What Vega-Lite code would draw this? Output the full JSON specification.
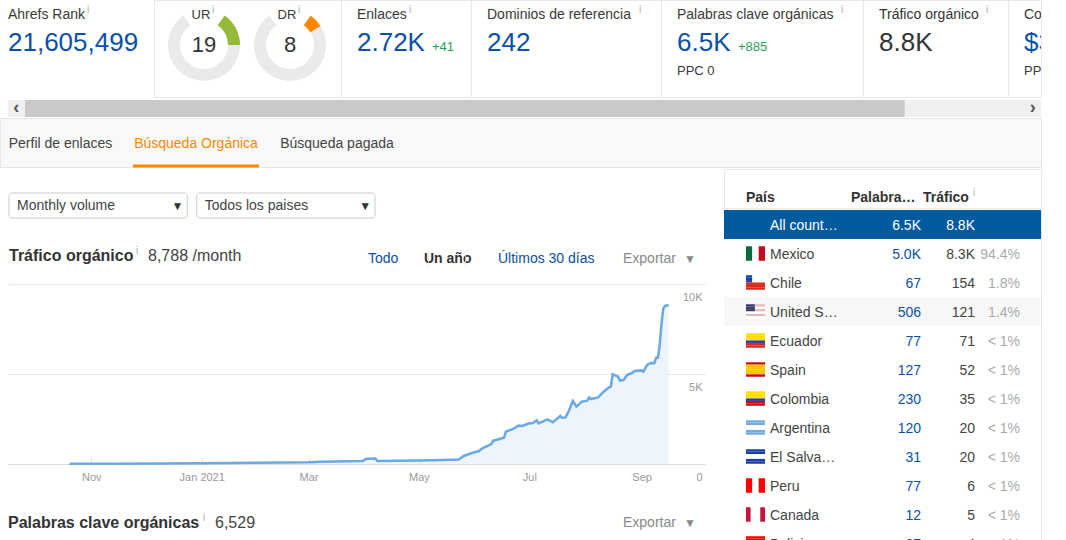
{
  "$schema": "https://vega.github.io/schema/vega-lite/v6.json",
  "description": "Ahrefs site overview: metric strip, organic traffic chart and country table.",
  "padding": {"left": -1, "top": -1, "right": 0, "bottom": 0},
  "background": "white",
  "spacing": 0,
  "resolve": {"scale": {"color": "independent", "size": "independent"}},
  "config": {"font": "Liberation Sans", "view": {"stroke": null}, "concat": {"spacing": 0}, "scale": {"pointPadding": 0}},
  "datasets": {
    "kpi": [
      {"panel": "rank", "line": "title", "role": "title", "text": "Ahrefs Rank", "tone": "plain"},
      {"panel": "rank", "line": "title", "role": "info", "text": "i", "tone": "muted"},
      {"panel": "rank", "line": "value", "role": "value", "text": "21,605,499", "tone": "link"},
      {"panel": "links", "line": "title", "role": "title", "text": "Enlaces", "tone": "plain"},
      {"panel": "links", "line": "title", "role": "info", "text": "i", "tone": "muted"},
      {"panel": "links", "line": "value", "role": "value", "text": "2.72K", "tone": "link"},
      {"panel": "links", "line": "value", "role": "delta", "text": "+41", "tone": "up"},
      {"panel": "domains", "line": "title", "role": "title", "text": "Dominios de referencia", "tone": "plain"},
      {"panel": "domains", "line": "title", "role": "info", "text": "i", "tone": "muted"},
      {"panel": "domains", "line": "value", "role": "value", "text": "242", "tone": "link"},
      {"panel": "keywords", "line": "title", "role": "title", "text": "Palabras clave orgánicas", "tone": "plain"},
      {"panel": "keywords", "line": "title", "role": "info", "text": "i", "tone": "muted"},
      {"panel": "keywords", "line": "value", "role": "value", "text": "6.5K", "tone": "link"},
      {"panel": "keywords", "line": "value", "role": "delta", "text": "+885", "tone": "up"},
      {"panel": "keywords", "line": "sub", "role": "sub", "text": "PPC 0", "tone": "plain"},
      {"panel": "traffic", "line": "title", "role": "title", "text": "Tráfico orgánico", "tone": "plain"},
      {"panel": "traffic", "line": "title", "role": "info", "text": "i", "tone": "muted"},
      {"panel": "traffic", "line": "value", "role": "value", "text": "8.8K", "tone": "plain"},
      {"panel": "cost", "line": "title", "role": "title", "text": "Coste", "tone": "plain"},
      {"panel": "cost", "line": "value", "role": "value", "text": "$3", "tone": "link"},
      {"panel": "cost", "line": "sub", "role": "sub", "text": "PPC", "tone": "plain"}
    ],
    "gauge": [
      {"gauge": "UR", "line": "value", "part": "track", "from": 0, "to": 100},
      {"gauge": "DR", "line": "value", "part": "track", "from": 0, "to": 100},
      {"gauge": "UR", "line": "value", "part": "UR", "from": 0, "to": 19},
      {"gauge": "DR", "line": "value", "part": "DR", "from": 0, "to": 8}
    ],
    "traffic": [
      {"date": "2020-10-20", "traffic": 15},
      {"date": "2020-11-15", "traffic": 20},
      {"date": "2021-01-01", "traffic": 40},
      {"date": "2021-02-01", "traffic": 65},
      {"date": "2021-03-01", "traffic": 100},
      {"date": "2021-03-08", "traffic": 130},
      {"date": "2021-03-31", "traffic": 170},
      {"date": "2021-04-02", "traffic": 290},
      {"date": "2021-04-07", "traffic": 300},
      {"date": "2021-04-08", "traffic": 170},
      {"date": "2021-05-01", "traffic": 200},
      {"date": "2021-05-14", "traffic": 222},
      {"date": "2021-05-23", "traffic": 250},
      {"date": "2021-05-26", "traffic": 460},
      {"date": "2021-06-01", "traffic": 667},
      {"date": "2021-06-03", "traffic": 705},
      {"date": "2021-06-05", "traffic": 870},
      {"date": "2021-06-10", "traffic": 1110},
      {"date": "2021-06-11", "traffic": 1295},
      {"date": "2021-06-17", "traffic": 1460},
      {"date": "2021-06-18", "traffic": 1800},
      {"date": "2021-06-22", "traffic": 1945},
      {"date": "2021-06-25", "traffic": 2130},
      {"date": "2021-06-27", "traffic": 2110},
      {"date": "2021-07-01", "traffic": 2260},
      {"date": "2021-07-03", "traffic": 2280},
      {"date": "2021-07-05", "traffic": 2425},
      {"date": "2021-07-06", "traffic": 2260},
      {"date": "2021-07-11", "traffic": 2480},
      {"date": "2021-07-14", "traffic": 2315},
      {"date": "2021-07-18", "traffic": 2665},
      {"date": "2021-07-19", "traffic": 2570},
      {"date": "2021-07-21", "traffic": 2590},
      {"date": "2021-07-23", "traffic": 3000},
      {"date": "2021-07-25", "traffic": 3500},
      {"date": "2021-07-27", "traffic": 3185},
      {"date": "2021-07-30", "traffic": 3465},
      {"date": "2021-08-02", "traffic": 3520},
      {"date": "2021-08-03", "traffic": 3700},
      {"date": "2021-08-04", "traffic": 3610},
      {"date": "2021-08-08", "traffic": 3700},
      {"date": "2021-08-11", "traffic": 4015},
      {"date": "2021-08-14", "traffic": 4260},
      {"date": "2021-08-15", "traffic": 4300},
      {"date": "2021-08-16", "traffic": 4985},
      {"date": "2021-08-19", "traffic": 4850},
      {"date": "2021-08-20", "traffic": 4630},
      {"date": "2021-08-22", "traffic": 4665},
      {"date": "2021-08-24", "traffic": 4945},
      {"date": "2021-08-27", "traffic": 5070},
      {"date": "2021-08-28", "traffic": 5165},
      {"date": "2021-09-01", "traffic": 5200},
      {"date": "2021-09-02", "traffic": 5130},
      {"date": "2021-09-04", "traffic": 5500},
      {"date": "2021-09-06", "traffic": 5610},
      {"date": "2021-09-08", "traffic": 5595},
      {"date": "2021-09-09", "traffic": 5905},
      {"date": "2021-09-10", "traffic": 5905},
      {"date": "2021-09-11", "traffic": 6610},
      {"date": "2021-09-12", "traffic": 7830},
      {"date": "2021-09-13", "traffic": 8650},
      {"date": "2021-09-14", "traffic": 8795},
      {"date": "2021-09-16", "traffic": 8820}
    ],
    "countries": [
      {"key": "All countries", "name": "All count…", "words": "6.5K", "traffic": "8.8K", "share": ""},
      {"key": "Mexico", "name": "Mexico", "words": "5.0K", "traffic": "8.3K", "share": "94.4%"},
      {"key": "Chile", "name": "Chile", "words": "67", "traffic": "154", "share": "1.8%"},
      {"key": "United States", "name": "United S…", "words": "506", "traffic": "121", "share": "1.4%"},
      {"key": "Ecuador", "name": "Ecuador", "words": "77", "traffic": "71", "share": "< 1%"},
      {"key": "Spain", "name": "Spain", "words": "127", "traffic": "52", "share": "< 1%"},
      {"key": "Colombia", "name": "Colombia", "words": "230", "traffic": "35", "share": "< 1%"},
      {"key": "Argentina", "name": "Argentina", "words": "120", "traffic": "20", "share": "< 1%"},
      {"key": "El Salvador", "name": "El Salva…", "words": "31", "traffic": "20", "share": "< 1%"},
      {"key": "Peru", "name": "Peru", "words": "77", "traffic": "6", "share": "< 1%"},
      {"key": "Canada", "name": "Canada", "words": "12", "traffic": "5", "share": "< 1%"},
      {"key": "Bolivia", "name": "Bolivia", "words": "87", "traffic": "4", "share": "< 1%"}
    ],
    "flagColumns": [
      {"key": "Mexico", "from": 0, "to": 1, "tint": "green"},
      {"key": "Mexico", "from": 1, "to": 2, "tint": "white"},
      {"key": "Mexico", "from": 2, "to": 3, "tint": "darkred"},
      {"key": "Peru", "from": 0, "to": 1, "tint": "red"},
      {"key": "Peru", "from": 1, "to": 2, "tint": "white"},
      {"key": "Peru", "from": 2, "to": 3, "tint": "red"},
      {"key": "Canada", "from": 0, "to": 0.75, "tint": "crimson"},
      {"key": "Canada", "from": 0.75, "to": 2.25, "tint": "white"},
      {"key": "Canada", "from": 2.25, "to": 3, "tint": "crimson"}
    ],
    "flagStripes": [
      {"key": "Chile", "stripe": "s1", "from": 0, "to": 1, "tint": "blue"},
      {"key": "Chile", "stripe": "s2", "from": 0, "to": 1, "tint": "blue"},
      {"key": "Chile", "stripe": "s3", "from": 0, "to": 1, "tint": "blue"},
      {"key": "Chile", "stripe": "s1", "from": 1, "to": 3, "tint": "white"},
      {"key": "Chile", "stripe": "s2", "from": 1, "to": 3, "tint": "white"},
      {"key": "Chile", "stripe": "s3", "from": 1, "to": 3, "tint": "white"},
      {"key": "Chile", "stripe": "s4", "from": 0, "to": 3, "tint": "red2"},
      {"key": "Chile", "stripe": "s5", "from": 0, "to": 3, "tint": "red2"},
      {"key": "Chile", "stripe": "s6", "from": 0, "to": 3, "tint": "red2"},
      {"key": "United States", "stripe": "s1", "from": 1.4, "to": 3, "tint": "pink"},
      {"key": "United States", "stripe": "s2", "from": 1.4, "to": 3, "tint": "white"},
      {"key": "United States", "stripe": "s3", "from": 1.4, "to": 3, "tint": "pink"},
      {"key": "United States", "stripe": "s1", "from": 0, "to": 1.4, "tint": "navy"},
      {"key": "United States", "stripe": "s2", "from": 0, "to": 1.4, "tint": "navy"},
      {"key": "United States", "stripe": "s3", "from": 0, "to": 1.4, "tint": "navy"},
      {"key": "United States", "stripe": "s4", "from": 0, "to": 3, "tint": "white"},
      {"key": "United States", "stripe": "s5", "from": 0, "to": 3, "tint": "pink"},
      {"key": "United States", "stripe": "s6", "from": 0, "to": 3, "tint": "white"},
      {"key": "Ecuador", "stripe": "s1", "from": 0, "to": 3, "tint": "yellow"},
      {"key": "Ecuador", "stripe": "s2", "from": 0, "to": 3, "tint": "yellow"},
      {"key": "Ecuador", "stripe": "s3", "from": 0, "to": 3, "tint": "yellow"},
      {"key": "Ecuador", "stripe": "s4", "from": 0, "to": 3, "tint": "blue"},
      {"key": "Ecuador", "stripe": "s5", "from": 0, "to": 3, "tint": "red2"},
      {"key": "Ecuador", "stripe": "s6", "from": 0, "to": 3, "tint": "red2"},
      {"key": "Spain", "stripe": "s1", "from": 0, "to": 3, "tint": "darkred"},
      {"key": "Spain", "stripe": "s2", "from": 0, "to": 3, "tint": "amber"},
      {"key": "Spain", "stripe": "s3", "from": 0, "to": 3, "tint": "amber"},
      {"key": "Spain", "stripe": "s4", "from": 0, "to": 3, "tint": "amber"},
      {"key": "Spain", "stripe": "s5", "from": 0, "to": 3, "tint": "amber"},
      {"key": "Spain", "stripe": "s6", "from": 0, "to": 3, "tint": "darkred"},
      {"key": "Colombia", "stripe": "s1", "from": 0, "to": 3, "tint": "yellow"},
      {"key": "Colombia", "stripe": "s2", "from": 0, "to": 3, "tint": "yellow"},
      {"key": "Colombia", "stripe": "s3", "from": 0, "to": 3, "tint": "yellow"},
      {"key": "Colombia", "stripe": "s4", "from": 0, "to": 3, "tint": "blue"},
      {"key": "Colombia", "stripe": "s5", "from": 0, "to": 3, "tint": "darkred"},
      {"key": "Colombia", "stripe": "s6", "from": 0, "to": 3, "tint": "darkred"},
      {"key": "Argentina", "stripe": "s1", "from": 0, "to": 3, "tint": "sky"},
      {"key": "Argentina", "stripe": "s2", "from": 0, "to": 3, "tint": "sky"},
      {"key": "Argentina", "stripe": "s3", "from": 0, "to": 3, "tint": "white"},
      {"key": "Argentina", "stripe": "s4", "from": 0, "to": 3, "tint": "white"},
      {"key": "Argentina", "stripe": "s5", "from": 0, "to": 3, "tint": "sky"},
      {"key": "Argentina", "stripe": "s6", "from": 0, "to": 3, "tint": "sky"},
      {"key": "El Salvador", "stripe": "s1", "from": 0, "to": 3, "tint": "blue"},
      {"key": "El Salvador", "stripe": "s2", "from": 0, "to": 3, "tint": "blue"},
      {"key": "El Salvador", "stripe": "s3", "from": 0, "to": 3, "tint": "white"},
      {"key": "El Salvador", "stripe": "s4", "from": 0, "to": 3, "tint": "white"},
      {"key": "El Salvador", "stripe": "s5", "from": 0, "to": 3, "tint": "blue"},
      {"key": "El Salvador", "stripe": "s6", "from": 0, "to": 3, "tint": "blue"},
      {"key": "Bolivia", "stripe": "s1", "from": 0, "to": 3, "tint": "red"},
      {"key": "Bolivia", "stripe": "s2", "from": 0, "to": 3, "tint": "red"}
    ]
  },
  "vconcat": [
    {
      "bounds": "flush",
      "spacing": 0,
      "resolve": {"scale": {"color": "independent", "size": "independent"}},
      "hconcat": [
        {
          "width": 154, "height": 97,
          "data": {"name": "kpi"},
          "transform": [{"filter": "datum.panel == 'rank'"}],
          "resolve": {"scale": {"x": "independent"}},
          "encoding": {"y": {"field": "line", "type": "nominal", "axis": null, "scale": {"domain": ["title", "value", "sub"], "range": [15, 71]}}},
          "layer": [
            {
              "transform": [{"filter": "datum.role == 'title' || datum.role == 'value' || datum.role == 'sub'"}],
              "mark": {"type": "text", "align": "left", "baseline": "middle"},
              "encoding": {
                "x": {"field": "panel", "type": "nominal", "axis": null, "scale": {"range": [8, 8]}},
                "text": {"field": "text"},
                "size": {"field": "role", "type": "nominal", "legend": null, "scale": {"type": "ordinal", "domain": ["title", "value", "sub"], "range": [14, 26, 13]}},
                "color": {"field": "tone", "type": "nominal", "legend": null, "scale": {"domain": ["plain", "link"], "range": ["#3a3a3a", "#0b50a4"]}}
              }
            },
            {
              "transform": [{"filter": "datum.role == 'info'"}],
              "mark": {"type": "text", "align": "center", "baseline": "bottom", "fontSize": 10, "color": "#aaaaaa"},
              "encoding": {"x": {"field": "panel", "type": "nominal", "axis": null, "scale": {"range": [88, 88]}}, "text": {"field": "text"}}
            }
          ]
        },
        {
          "width": 187, "height": 97,
          "view": {"stroke": "#e8e8e8"},
          "resolve": {"scale": {"x": "independent"}},
          "encoding": {"y": {"field": "line", "type": "nominal", "axis": null, "scale": {"domain": ["title", "value"], "range": [15, 45]}}},
          "layer": [
            {
              "data": {"name": "gauge"},
              "mark": {"type": "arc", "radius": 36, "innerRadius": 24},
              "encoding": {
                "x": {"field": "gauge", "type": "nominal", "axis": null, "scale": {"domain": ["UR", "DR"], "range": [50, 136]}},
                "theta": {"field": "from", "type": "quantitative", "stack": null, "scale": {"domain": [0, 100], "range": [0.61, 5.67]}},
                "theta2": {"field": "to"},
                "color": {"field": "part", "type": "nominal", "legend": null, "scale": {"domain": ["track", "UR", "DR"], "range": ["#e9eaec", "#94ba38", "#ff8800"]}}
              }
            },
            {
              "data": {"values": [{"gauge": "UR", "score": "19", "line": "value"}, {"gauge": "DR", "score": "8", "line": "value"}]},
              "mark": {"type": "text", "align": "center", "baseline": "middle", "fontSize": 22, "color": "#333333"},
              "encoding": {
                "x": {"field": "gauge", "type": "nominal", "axis": null, "scale": {"domain": ["UR", "DR"], "range": [50, 136]}},
                "text": {"field": "score"}
              }
            },
            {
              "data": {"values": [{"gauge": "UR", "line": "title"}, {"gauge": "DR", "line": "title"}]},
              "mark": {"type": "text", "align": "center", "baseline": "middle", "fontSize": 13, "color": "#3a3a3a"},
              "encoding": {
                "x": {"field": "gauge", "type": "nominal", "axis": null, "scale": {"domain": ["UR", "DR"], "range": [47, 133]}},
                "text": {"field": "gauge"}
              }
            },
            {
              "data": {"values": [{"gauge": "UR", "line": "title", "info": "i"}, {"gauge": "DR", "line": "title", "info": "i"}]},
              "mark": {"type": "text", "align": "center", "baseline": "bottom", "fontSize": 10, "color": "#aaaaaa"},
              "encoding": {
                "x": {"field": "gauge", "type": "nominal", "axis": null, "scale": {"domain": ["UR", "DR"], "range": [59, 145]}},
                "text": {"field": "info"}
              }
            }
          ]
        },
        {
          "width": 130, "height": 97,
          "view": {"stroke": "#e8e8e8"},
          "data": {"name": "kpi"},
          "transform": [{"filter": "datum.panel == 'links'"}],
          "resolve": {"scale": {"x": "independent"}},
          "encoding": {"y": {"field": "line", "type": "nominal", "axis": null, "scale": {"domain": ["title", "value", "sub"], "range": [15, 71]}}},
          "layer": [
            {
              "transform": [{"filter": "datum.role == 'title' || datum.role == 'value' || datum.role == 'sub'"}],
              "mark": {"type": "text", "align": "left", "baseline": "middle"},
              "encoding": {
                "x": {"field": "panel", "type": "nominal", "axis": null, "scale": {"range": [16, 16]}},
                "text": {"field": "text"},
                "size": {"field": "role", "type": "nominal", "legend": null, "scale": {"type": "ordinal", "domain": ["title", "value", "sub"], "range": [14, 26, 13]}},
                "color": {"field": "tone", "type": "nominal", "legend": null, "scale": {"domain": ["plain", "link"], "range": ["#3a3a3a", "#0b50a4"]}}
              }
            },
            {
              "transform": [{"filter": "datum.role == 'delta'"}],
              "mark": {"type": "text", "align": "left", "baseline": "middle", "dy": 4, "fontSize": 13, "color": "#27a15a"},
              "encoding": {"x": {"field": "panel", "type": "nominal", "axis": null, "scale": {"range": [91, 91]}}, "text": {"field": "text"}}
            },
            {
              "transform": [{"filter": "datum.role == 'info'"}],
              "mark": {"type": "text", "align": "center", "baseline": "bottom", "fontSize": 10, "color": "#aaaaaa"},
              "encoding": {"x": {"field": "panel", "type": "nominal", "axis": null, "scale": {"range": [69, 69]}}, "text": {"field": "text"}}
            }
          ]
        },
        {
          "width": 190, "height": 97,
          "view": {"stroke": "#e8e8e8"},
          "data": {"name": "kpi"},
          "transform": [{"filter": "datum.panel == 'domains'"}],
          "resolve": {"scale": {"x": "independent"}},
          "encoding": {"y": {"field": "line", "type": "nominal", "axis": null, "scale": {"domain": ["title", "value", "sub"], "range": [15, 71]}}},
          "layer": [
            {
              "transform": [{"filter": "datum.role == 'title' || datum.role == 'value' || datum.role == 'sub'"}],
              "mark": {"type": "text", "align": "left", "baseline": "middle"},
              "encoding": {
                "x": {"field": "panel", "type": "nominal", "axis": null, "scale": {"range": [16, 16]}},
                "text": {"field": "text"},
                "size": {"field": "role", "type": "nominal", "legend": null, "scale": {"type": "ordinal", "domain": ["title", "value", "sub"], "range": [14, 26, 13]}},
                "color": {"field": "tone", "type": "nominal", "legend": null, "scale": {"domain": ["plain", "link"], "range": ["#3a3a3a", "#0b50a4"]}}
              }
            },
            {
              "transform": [{"filter": "datum.role == 'info'"}],
              "mark": {"type": "text", "align": "center", "baseline": "bottom", "fontSize": 10, "color": "#aaaaaa"},
              "encoding": {"x": {"field": "panel", "type": "nominal", "axis": null, "scale": {"range": [169, 169]}}, "text": {"field": "text"}}
            }
          ]
        },
        {
          "width": 202, "height": 97,
          "view": {"stroke": "#e8e8e8"},
          "data": {"name": "kpi"},
          "transform": [{"filter": "datum.panel == 'keywords'"}],
          "resolve": {"scale": {"x": "independent"}},
          "encoding": {"y": {"field": "line", "type": "nominal", "axis": null, "scale": {"domain": ["title", "value", "sub"], "range": [15, 71]}}},
          "layer": [
            {
              "transform": [{"filter": "datum.role == 'title' || datum.role == 'value' || datum.role == 'sub'"}],
              "mark": {"type": "text", "align": "left", "baseline": "middle"},
              "encoding": {
                "x": {"field": "panel", "type": "nominal", "axis": null, "scale": {"range": [16, 16]}},
                "text": {"field": "text"},
                "size": {"field": "role", "type": "nominal", "legend": null, "scale": {"type": "ordinal", "domain": ["title", "value", "sub"], "range": [14, 26, 13]}},
                "color": {"field": "tone", "type": "nominal", "legend": null, "scale": {"domain": ["plain", "link"], "range": ["#3a3a3a", "#0b50a4"]}}
              }
            },
            {
              "transform": [{"filter": "datum.role == 'delta'"}],
              "mark": {"type": "text", "align": "left", "baseline": "middle", "dy": 4, "fontSize": 13, "color": "#27a15a"},
              "encoding": {"x": {"field": "panel", "type": "nominal", "axis": null, "scale": {"range": [77, 77]}}, "text": {"field": "text"}}
            },
            {
              "transform": [{"filter": "datum.role == 'info'"}],
              "mark": {"type": "text", "align": "center", "baseline": "bottom", "fontSize": 10, "color": "#aaaaaa"},
              "encoding": {"x": {"field": "panel", "type": "nominal", "axis": null, "scale": {"range": [181, 181]}}, "text": {"field": "text"}}
            }
          ]
        },
        {
          "width": 145, "height": 97,
          "view": {"stroke": "#e8e8e8"},
          "data": {"name": "kpi"},
          "transform": [{"filter": "datum.panel == 'traffic'"}],
          "resolve": {"scale": {"x": "independent"}},
          "encoding": {"y": {"field": "line", "type": "nominal", "axis": null, "scale": {"domain": ["title", "value", "sub"], "range": [15, 71]}}},
          "layer": [
            {
              "transform": [{"filter": "datum.role == 'title' || datum.role == 'value' || datum.role == 'sub'"}],
              "mark": {"type": "text", "align": "left", "baseline": "middle"},
              "encoding": {
                "x": {"field": "panel", "type": "nominal", "axis": null, "scale": {"range": [16, 16]}},
                "text": {"field": "text"},
                "size": {"field": "role", "type": "nominal", "legend": null, "scale": {"type": "ordinal", "domain": ["title", "value", "sub"], "range": [14, 26, 13]}},
                "color": {"field": "tone", "type": "nominal", "legend": null, "scale": {"domain": ["plain", "link"], "range": ["#333333", "#0b50a4"]}}
              }
            },
            {
              "transform": [{"filter": "datum.role == 'info'"}],
              "mark": {"type": "text", "align": "center", "baseline": "bottom", "fontSize": 10, "color": "#aaaaaa"},
              "encoding": {"x": {"field": "panel", "type": "nominal", "axis": null, "scale": {"range": [124, 124]}}, "text": {"field": "text"}}
            }
          ]
        },
        {
          "width": 33, "height": 97,
          "view": {"stroke": "#e8e8e8"},
          "data": {"name": "kpi"},
          "transform": [{"filter": "datum.panel == 'cost'"}],
          "mark": {"type": "text", "align": "left", "baseline": "middle", "clip": true},
          "encoding": {
            "y": {"field": "line", "type": "nominal", "axis": null, "scale": {"domain": ["title", "value", "sub"], "range": [15, 71]}},
            "x": {"field": "panel", "type": "nominal", "axis": null, "scale": {"range": [16, 16]}},
            "text": {"field": "text"},
            "size": {"field": "role", "type": "nominal", "legend": null, "scale": {"type": "ordinal", "domain": ["title", "value", "sub"], "range": [14, 26, 13]}},
            "color": {"field": "tone", "type": "nominal", "legend": null, "scale": {"domain": ["plain", "link"], "range": ["#3a3a3a", "#0b50a4"]}}
          }
        }
      ]
    },
    {
      "width": 1041, "height": 17,
      "layer": [
        {
          "data": {"values": [{"part": "track", "from": 0, "to": 100}, {"part": "thumb", "from": 1.65, "to": 86.8}]},
          "mark": "rect",
          "encoding": {
            "x": {"field": "from", "type": "quantitative", "axis": null, "scale": {"domain": [0, 100], "range": [8, 1041]}},
            "x2": {"field": "to"},
            "color": {"field": "part", "type": "nominal", "legend": null, "scale": {"domain": ["track", "thumb"], "range": ["#f0f0f0", "#c9c9c9"]}}
          }
        },
        {
          "data": {"values": [{"glyph": "‹", "at": 0.8}, {"glyph": "›", "at": 99.2}]},
          "mark": {"type": "text", "fontSize": 18, "fontWeight": "bold", "color": "#555555", "dy": -1},
          "encoding": {"x": {"field": "at", "type": "quantitative"}, "text": {"field": "glyph"}}
        }
      ]
    },
    {
      "width": 1041, "height": 49,
      "view": {"fill": "#f9f9f9", "stroke": "#e6e6e6"},
      "resolve": {"scale": {"x": "independent"}},
      "layer": [
        {
          "data": {"values": [{"tab": "Perfil de enlaces"}, {"tab": "Búsqueda pagada"}]},
          "mark": {"type": "text", "fontSize": 14, "baseline": "middle", "color": "#444444", "dy": 1},
          "encoding": {
            "x": {"field": "tab", "type": "nominal", "sort": null, "axis": null, "scale": {"range": [60.5, 337]}},
            "text": {"field": "tab"}
          }
        },
        {
          "data": {"values": [{"tab": "Búsqueda Orgánica"}]},
          "mark": {"type": "text", "fontSize": 14, "baseline": "middle", "color": "#ff8800", "dy": 1},
          "encoding": {
            "x": {"field": "tab", "type": "nominal", "axis": null, "scale": {"range": [196, 196]}},
            "text": {"field": "tab"}
          }
        },
        {
          "data": {"values": [{"tab": "Búsqueda Orgánica", "from": 0, "to": 100, "line": "underline"}]},
          "mark": {"type": "rule", "strokeWidth": 3, "color": "#ff8800"},
          "encoding": {
            "x": {"field": "from", "type": "quantitative", "axis": null, "scale": {"domain": [0, 100], "range": [133, 259]}},
            "x2": {"field": "to"},
            "y": {"field": "line", "type": "nominal", "axis": null, "scale": {"range": [48, 48]}}
          }
        }
      ]
    },
    {
      "spacing": 0,
      "resolve": {"scale": {"color": "independent", "size": "independent"}},
      "hconcat": [
        {
          "spacing": 0,
          "resolve": {"scale": {"color": "independent", "size": "independent"}},
          "vconcat": [
            {
              "width": 723, "height": 58,
              "data": {"values": [{"select": "Monthly volume", "box": "select"}, {"select": "Todos los paises", "box": "select"}]},
              "encoding": {
                "y": {"field": "box", "type": "nominal", "axis": null, "scale": {"type": "band", "range": [24, 49], "padding": 0}}
              },
              "layer": [
                {
                  "mark": {"type": "rect", "fill": "white", "stroke": "#cccccc", "cornerRadius": 3},
                  "encoding": {"x": {"field": "select", "type": "nominal", "sort": null, "axis": null, "scale": {"type": "band", "range": [9, 375], "paddingInner": 0.05, "paddingOuter": 0}}}
                },
                {
                  "mark": {"type": "text", "align": "left", "baseline": "middle", "fontSize": 14, "color": "#444444"},
                  "encoding": {
                    "x": {"field": "select", "type": "nominal", "sort": null, "bandPosition": 0.045},
                    "text": {"field": "select"}
                  }
                },
                {
                  "mark": {"type": "text", "align": "center", "baseline": "middle", "fontSize": 12, "color": "#333333", "text": "▼"},
                  "encoding": {"x": {"field": "select", "type": "nominal", "sort": null, "bandPosition": 0.945}}
                }
              ]
            },
            {
              "width": 723, "height": 57,
              "resolve": {"scale": {"x": "independent"}},
              "encoding": {
                "y": {"field": "line", "type": "nominal", "axis": null, "scale": {"domain": ["title", "links"], "range": [28, 33]}},
                "text": {"field": "item"}
              },
              "layer": [
                {
                  "data": {"values": [{"item": "Tráfico orgánico", "line": "title"}]},
                  "mark": {"type": "text", "align": "left", "baseline": "middle", "fontSize": 16, "fontWeight": "bold", "color": "#333333"},
                  "encoding": {"x": {"field": "item", "type": "nominal", "axis": null, "scale": {"range": [9, 9]}}}
                },
                {
                  "data": {"values": [{"item": "i", "line": "title"}]},
                  "mark": {"type": "text", "align": "center", "baseline": "bottom", "fontSize": 10, "color": "#aaaaaa"},
                  "encoding": {"x": {"field": "item", "type": "nominal", "axis": null, "scale": {"range": [137, 137]}}}
                },
                {
                  "data": {"values": [{"item": "8,788 /month", "line": "title"}]},
                  "mark": {"type": "text", "align": "left", "baseline": "middle", "fontSize": 16, "color": "#444444"},
                  "encoding": {"x": {"field": "item", "type": "nominal", "axis": null, "scale": {"range": [148, 148]}}}
                },
                {
                  "data": {"values": [{"item": "Todo", "line": "links"}]},
                  "mark": {"type": "text", "align": "left", "baseline": "middle", "fontSize": 14, "color": "#0b50a4"},
                  "encoding": {"x": {"field": "item", "type": "nominal", "axis": null, "scale": {"range": [368, 368]}}}
                },
                {
                  "data": {"values": [{"item": "Un año", "line": "links"}]},
                  "mark": {"type": "text", "align": "left", "baseline": "middle", "fontSize": 14, "fontWeight": "bold", "color": "#333333"},
                  "encoding": {"x": {"field": "item", "type": "nominal", "axis": null, "scale": {"range": [424, 424]}}}
                },
                {
                  "data": {"values": [{"item": "Últimos 30 días", "line": "links"}]},
                  "mark": {"type": "text", "align": "left", "baseline": "middle", "fontSize": 14, "color": "#0b50a4"},
                  "encoding": {"x": {"field": "item", "type": "nominal", "axis": null, "scale": {"range": [498, 498]}}}
                },
                {
                  "data": {"values": [{"item": "Exportar", "line": "links"}]},
                  "mark": {"type": "text", "align": "left", "baseline": "middle", "fontSize": 14, "color": "#8a8a8a"},
                  "encoding": {"x": {"field": "item", "type": "nominal", "axis": null, "scale": {"range": [623, 623]}}}
                },
                {
                  "data": {"values": [{"item": "▼", "line": "links"}]},
                  "mark": {"type": "text", "align": "center", "baseline": "middle", "fontSize": 12, "color": "#8a8a8a"},
                  "encoding": {"x": {"field": "item", "type": "nominal", "axis": null, "scale": {"range": [690, 690]}}}
                },
                {
                  "data": {"values": [{"item": "after Todo", "line": "links"}, {"item": "after Un año", "line": "links"}]},
                  "mark": {"type": "tick", "orient": "vertical", "size": 16, "thickness": 1, "color": "#e6e6e6"},
                  "encoding": {"x": {"field": "item", "type": "nominal", "sort": null, "axis": null, "scale": {"range": [410, 484]}}}
                }
              ]
            },
            {
              "bounds": "flush",
              "spacing": 0,
              "hconcat": [
                {"width": 8, "height": 180, "data": {"values": []}, "mark": "text"},
                {
                  "width": 697, "height": 180,
                  "data": {"name": "traffic"},
                  "encoding": {
                    "x": {
                      "field": "date", "type": "temporal", "title": null,
                      "scale": {"domain": [{"year": 2020, "month": "sep", "date": 16}, {"year": 2021, "month": "oct", "date": 6}]},
                      "axis": {
                        "values": [
                          {"year": 2020, "month": "nov", "date": 1},
                          {"year": 2021, "month": "jan", "date": 1},
                          {"year": 2021, "month": "mar", "date": 1},
                          {"year": 2021, "month": "may", "date": 1},
                          {"year": 2021, "month": "jul", "date": 1},
                          {"year": 2021, "month": "sep", "date": 1}
                        ],
                        "labelExpr": "month(datum.value) == 0 ? timeFormat(datum.value, '%b %Y') : timeFormat(datum.value, '%b')",
                        "grid": false,
                        "domainColor": "#dddddd",
                        "tickColor": "#e4e4e4",
                        "tickSize": -7,
                        "labelColor": "#999999",
                        "labelFontSize": 11,
                        "labelPadding": 20,
                        "labelBaseline": "middle",
                        "labelFlush": false
                      }
                    },
                    "y": {
                      "field": "traffic", "type": "quantitative", "title": null,
                      "scale": {"domain": [0, 10000]},
                      "axis": {
                        "orient": "right",
                        "values": [0, 5000, 10000],
                        "labelExpr": "datum.value == 0 ? '0' : datum.value / 1000 + 'K'",
                        "gridColor": "#e8e8e8",
                        "domain": false,
                        "ticks": false,
                        "labelColor": "#999999",
                        "labelFontSize": 11,
                        "labelAlign": "right",
                        "labelBaseline": "middle",
                        "labelPadding": -3,
                        "labelOffset": 13,
                        "labelBound": false,
                        "labelFlush": false
                      }
                    }
                  },
                  "layer": [
                    {"mark": {"type": "area", "color": "#eef4fc"}},
                    {"mark": {"type": "line", "color": "#68a9e6", "strokeWidth": 2.5}}
                  ]
                },
                {"width": 18, "height": 180, "data": {"values": []}, "mark": "text"}
              ]
            },
            {
              "width": 723, "height": 58,
              "resolve": {"scale": {"x": "independent"}},
              "encoding": {
                "y": {"field": "line", "type": "nominal", "axis": null, "scale": {"range": [41, 41]}},
                "text": {"field": "item"}
              },
              "layer": [
                {
                  "data": {"values": [{"item": "Palabras clave orgánicas", "line": "title"}]},
                  "mark": {"type": "text", "align": "left", "baseline": "middle", "fontSize": 16, "fontWeight": "bold", "color": "#333333"},
                  "encoding": {"x": {"field": "item", "type": "nominal", "axis": null, "scale": {"range": [8, 8]}}}
                },
                {
                  "data": {"values": [{"item": "i", "line": "title"}]},
                  "mark": {"type": "text", "align": "center", "baseline": "bottom", "fontSize": 10, "color": "#aaaaaa"},
                  "encoding": {"x": {"field": "item", "type": "nominal", "axis": null, "scale": {"range": [204, 204]}}}
                },
                {
                  "data": {"values": [{"item": "6,529", "line": "title"}]},
                  "mark": {"type": "text", "align": "left", "baseline": "middle", "fontSize": 16, "color": "#444444"},
                  "encoding": {"x": {"field": "item", "type": "nominal", "axis": null, "scale": {"range": [215, 215]}}}
                },
                {
                  "data": {"values": [{"item": "Exportar", "line": "title"}]},
                  "mark": {"type": "text", "align": "left", "baseline": "middle", "fontSize": 14, "color": "#8a8a8a"},
                  "encoding": {"x": {"field": "item", "type": "nominal", "axis": null, "scale": {"range": [623, 623]}}}
                },
                {
                  "data": {"values": [{"item": "▼", "line": "title"}]},
                  "mark": {"type": "text", "align": "center", "baseline": "middle", "fontSize": 12, "color": "#8a8a8a"},
                  "encoding": {"x": {"field": "item", "type": "nominal", "axis": null, "scale": {"range": [690, 690]}}}
                }
              ]
            }
          ]
        },
        {
          "spacing": 0,
          "resolve": {"scale": {"color": "independent", "size": "independent"}},
          "vconcat": [
            {
              "width": 317, "height": 39,
              "view": {"stroke": "#e8e8e8"},
              "resolve": {"scale": {"x": "independent"}},
              "encoding": {
                "y": {"field": "line", "type": "nominal", "axis": null, "scale": {"range": [29, 29]}},
                "text": {"field": "item"}
              },
              "layer": [
                {
                  "data": {"values": [{"item": "País", "line": "head"}]},
                  "mark": {"type": "text", "align": "left", "baseline": "middle", "fontSize": 14, "fontWeight": "bold", "color": "#333333"},
                  "encoding": {"x": {"field": "item", "type": "nominal", "axis": null, "scale": {"range": [22, 22]}}}
                },
                {
                  "data": {"values": [{"item": "Palabra…", "line": "head"}]},
                  "mark": {"type": "text", "align": "left", "baseline": "middle", "fontSize": 14, "fontWeight": "bold", "color": "#333333"},
                  "encoding": {"x": {"field": "item", "type": "nominal", "axis": null, "scale": {"range": [127, 127]}}}
                },
                {
                  "data": {"values": [{"item": "Tráfico", "line": "head"}]},
                  "mark": {"type": "text", "align": "left", "baseline": "middle", "fontSize": 14, "fontWeight": "bold", "color": "#333333"},
                  "encoding": {"x": {"field": "item", "type": "nominal", "axis": null, "scale": {"range": [199, 199]}}}
                },
                {
                  "data": {"values": [{"item": "i", "line": "head"}]},
                  "mark": {"type": "text", "align": "center", "baseline": "bottom", "fontSize": 10, "color": "#aaaaaa"},
                  "encoding": {"x": {"field": "item", "type": "nominal", "axis": null, "scale": {"range": [250, 250]}}}
                }
              ]
            },
            {
              "width": 317, "height": 330,
              "view": {"stroke": "#e8e8e8"},
              "resolve": {"scale": {"x": "independent", "y": "independent"}},
              "layer": [
                {
                  "data": {"name": "countries"},
                  "mark": {"type": "bar", "clip": true},
                  "encoding": {
                    "y": {"field": "key", "type": "nominal", "sort": null, "axis": null, "scale": {"type": "band", "range": [0, 348], "padding": 0}},
                    "color": {
                      "condition": [
                        {"test": "datum.key == 'All countries'", "value": "#005a9e"},
                        {"test": "datum.key == 'United States'", "value": "#f7f7f7"}
                      ],
                      "value": "white"
                    }
                  }
                },
                {
                  "data": {"name": "flagColumns"},
                  "mark": {"type": "bar", "clip": true},
                  "encoding": {
                    "x": {"field": "from", "type": "quantitative", "axis": null, "scale": {"domain": [0, 3], "range": [22, 41]}},
                    "x2": {"field": "to"},
                    "y": {"field": "key", "type": "nominal", "axis": null, "scale": {"type": "band", "domain": ["All countries", "Mexico", "Chile", "United States", "Ecuador", "Spain", "Colombia", "Argentina", "El Salvador", "Peru", "Canada", "Bolivia"], "range": [0, 348], "paddingInner": 0.5, "paddingOuter": 0.25}},
                    "color": {"field": "tint", "type": "nominal", "legend": null, "scale": {"domain": ["green", "white", "darkred", "red", "crimson", "blue", "red2", "pink", "navy", "yellow", "amber", "sky"], "range": ["#0a6b3f", "#ffffff", "#c60b1e", "#ff0000", "#c4143c", "#1740a5", "#d52b1e", "#e8b7bb", "#3c3b6e", "#ffdd00", "#ffc400", "#74acdf"]}}
                  }
                },
                {
                  "data": {"name": "flagStripes"},
                  "mark": {"type": "bar", "clip": true},
                  "encoding": {
                    "x": {"field": "from", "type": "quantitative", "axis": null, "scale": {"domain": [0, 3], "range": [22, 41]}},
                    "x2": {"field": "to"},
                    "y": {"field": "key", "type": "nominal", "axis": null, "scale": {"type": "band", "domain": ["All countries", "Mexico", "Chile", "United States", "Ecuador", "Spain", "Colombia", "Argentina", "El Salvador", "Peru", "Canada", "Bolivia"], "range": [0, 348], "paddingInner": 0.5, "paddingOuter": 0.25}},
                    "yOffset": {"field": "stripe", "type": "nominal", "scale": {"domain": ["s1", "s2", "s3", "s4", "s5", "s6"]}},
                    "color": {"field": "tint", "type": "nominal", "legend": null}
                  }
                },
                {
                  "data": {"name": "countries"},
                  "mark": {"type": "text", "align": "left", "baseline": "middle", "fontSize": 14, "clip": true},
                  "encoding": {
                    "x": {"datum": "name", "type": "nominal", "axis": null, "scale": {"domain": ["name"], "range": [46, 46]}},
                    "y": {"field": "key", "type": "nominal", "sort": null, "axis": null, "scale": {"type": "band", "range": [1, 349], "padding": 0}},
                    "text": {"field": "name"},
                    "color": {"condition": {"test": "datum.key == 'All countries'", "value": "white"}, "value": "#444444"}
                  }
                },
                {
                  "data": {"name": "countries"},
                  "mark": {"type": "text", "align": "right", "baseline": "middle", "fontSize": 14, "clip": true},
                  "encoding": {
                    "x": {"datum": "words", "type": "nominal", "axis": null, "scale": {"domain": ["words"], "range": [197, 197]}},
                    "y": {"field": "key", "type": "nominal", "sort": null, "axis": null, "scale": {"type": "band", "range": [1, 349], "padding": 0}},
                    "text": {"field": "words"},
                    "color": {"condition": {"test": "datum.key == 'All countries'", "value": "white"}, "value": "#0b50a4"}
                  }
                },
                {
                  "data": {"name": "countries"},
                  "mark": {"type": "text", "align": "right", "baseline": "middle", "fontSize": 14, "clip": true},
                  "encoding": {
                    "x": {"datum": "traffic", "type": "nominal", "axis": null, "scale": {"domain": ["traffic"], "range": [251, 251]}},
                    "y": {"field": "key", "type": "nominal", "sort": null, "axis": null, "scale": {"type": "band", "range": [1, 349], "padding": 0}},
                    "text": {"field": "traffic"},
                    "color": {"condition": {"test": "datum.key == 'All countries'", "value": "white"}, "value": "#444444"}
                  }
                },
                {
                  "data": {"name": "countries"},
                  "mark": {"type": "text", "align": "right", "baseline": "middle", "fontSize": 14, "color": "#aaaaaa", "clip": true},
                  "encoding": {
                    "x": {"datum": "share", "type": "nominal", "axis": null, "scale": {"domain": ["share"], "range": [296, 296]}},
                    "y": {"field": "key", "type": "nominal", "sort": null, "axis": null, "scale": {"type": "band", "range": [1, 349], "padding": 0}},
                    "text": {"field": "share"}
                  }
                }
              ]
            }
          ]
        }
      ]
    }
  ]
}
